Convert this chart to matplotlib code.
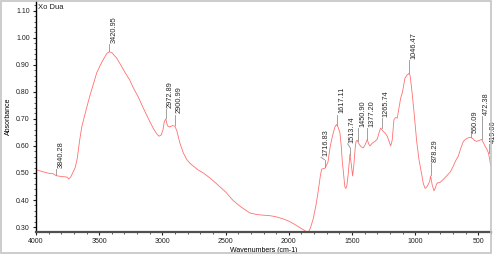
import numpy as np
import matplotlib
matplotlib.use("Agg")
import matplotlib.pyplot as plt
from matplotlib.patches import Rectangle
from matplotlib.ticker import MultipleLocator

plt.rcParams['font.family'] = ['Liberation Sans', 'DejaVu Sans']

# spectrum (wavenumber, absorbance)
wavenumber = [4000, 3950, 3900, 3863, 3840, 3800, 3757, 3740, 3725, 3710, 3690, 3673,
              3655, 3638, 3600, 3573, 3545, 3520, 3490, 3467, 3440, 3421, 3400, 3362,
              3330, 3296, 3260, 3230, 3190, 3151, 3110, 3072, 3045, 3027, 3010, 2995,
              2985, 2973, 2960, 2945, 2920, 2901, 2885, 2861, 2835, 2808, 2780, 2756,
              2720, 2676, 2620, 2571, 2500, 2440, 2380, 2307, 2260, 2228, 2149, 2100,
              2044, 2000, 1965, 1920, 1886, 1860, 1846, 1830, 1807, 1785, 1768, 1750,
              1740, 1727, 1715, 1700, 1690, 1674, 1660, 1648, 1635, 1623, 1610, 1595,
              1585, 1577, 1565, 1556, 1548, 1540, 1530, 1516, 1505, 1495, 1485, 1475,
              1468, 1458, 1442, 1425, 1410, 1395, 1379, 1368, 1358, 1340, 1318, 1300,
              1285, 1273, 1255, 1238, 1220, 1205, 1194, 1182, 1168, 1155, 1142, 1128,
              1115, 1100, 1081, 1065, 1050, 1040, 1028, 1010, 988, 970, 949, 935,
              921, 910, 895, 885, 878, 865, 851, 840, 830, 817, 804, 780,
              751, 720, 698, 680, 658, 640, 619, 600, 580, 566, 545, 530,
              513, 495, 474, 460, 448, 435, 421, 410, 403]
absorbance = [0.512, 0.505, 0.499, 0.497, 0.490, 0.487, 0.485, 0.478, 0.485, 0.500, 0.520, 0.555,
              0.620, 0.670, 0.740, 0.787, 0.830, 0.870, 0.900, 0.920, 0.942, 0.948, 0.945, 0.925,
              0.900, 0.872, 0.845, 0.815, 0.780, 0.740, 0.700, 0.665, 0.645, 0.636, 0.640, 0.660,
              0.690, 0.700, 0.675, 0.670, 0.675, 0.673, 0.655, 0.610, 0.575, 0.550, 0.535, 0.526,
              0.512, 0.500, 0.480, 0.460, 0.430, 0.398, 0.375, 0.352, 0.347, 0.345, 0.342, 0.338,
              0.330, 0.322, 0.313, 0.300, 0.290, 0.283, 0.281, 0.295, 0.330, 0.380, 0.430, 0.490,
              0.514, 0.516, 0.517, 0.530, 0.540, 0.593, 0.625, 0.648, 0.670, 0.679, 0.670, 0.648,
              0.600, 0.545, 0.490, 0.448, 0.443, 0.455, 0.495, 0.569, 0.530, 0.489, 0.530, 0.590,
              0.617, 0.621, 0.605, 0.596, 0.593, 0.605, 0.624, 0.608, 0.600, 0.610, 0.617, 0.625,
              0.650, 0.666, 0.655, 0.648, 0.635, 0.615, 0.600, 0.620, 0.697, 0.705, 0.703, 0.740,
              0.776, 0.800, 0.850, 0.862, 0.868, 0.860, 0.813, 0.730, 0.617, 0.550, 0.495, 0.460,
              0.443, 0.447, 0.459, 0.470, 0.489, 0.455, 0.434, 0.445, 0.460, 0.465, 0.465, 0.475,
              0.489, 0.505, 0.526, 0.545, 0.563, 0.590, 0.617, 0.625, 0.630, 0.632, 0.628, 0.620,
              0.617, 0.620, 0.624, 0.612, 0.600, 0.590, 0.575, 0.550, 0.526]

# labelled peaks
peaks = [3840.28, 3420.95, 2972.89, 2900.99, 1716.83, 1617.11, 1513.74, 1450.90,
         1377.20, 1265.74, 1046.47, 878.29, 560.09, 472.38, 419.06]
# where each leader line ends / label starts (data units)
label_y = [0.516, 0.978, 0.735, 0.716, 0.558, 0.716, 0.608, 0.665,
           0.665, 0.702, 0.918, 0.537, 0.643, 0.709, 0.607]
label_dx = [0, 0, 0, 0, 28, 0, 20, 0, 0, 0, 0, 0, 0, 0, 0]

wn = np.array(wavenumber)
ab = np.array(absorbance)

fig = plt.figure(figsize=(4.99, 2.54), dpi=100)
ax = fig.add_axes([36 / 499, 22 / 254, 455 / 499, 231 / 254])

ax.plot(wn, ab, color='#ff7070', lw=0.6)

ax.set_xlim(4000, 400)
ax.set_ylim(0.2817, 1.136)

for p, ly, dx in zip(peaks, label_y, label_dx):
    py = np.interp(p, wn[::-1], ab[::-1]) + 0.004
    ax.plot([p, p], [py, py + 0.028 if dx else ly], color='#909090', lw=0.6)
    if dx:
        ax.plot([p, p + dx], [py + 0.028, ly], color='#909090', lw=0.6)
    ax.text(p + dx - 8, ly + 0.004, '%.2f' % p, rotation=90, fontsize=5.3,
            ha='left', va='bottom', color='#282828', clip_on=False)

ax.text(0.004, 0.985, 'Xo Dua', transform=ax.transAxes, fontsize=5.5,
        ha='left', va='top', color='#202020')

ax.xaxis.set_major_locator(MultipleLocator(500))
ax.xaxis.set_minor_locator(MultipleLocator(100))
ax.yaxis.set_major_locator(MultipleLocator(0.1))
ax.yaxis.set_minor_locator(MultipleLocator(0.02))
ax.yaxis.set_major_formatter(plt.FormatStrFormatter('%.2f'))
ax.tick_params(which='major', direction='out', length=2.5, width=0.8,
               labelsize=5, pad=2, colors='#202020')
ax.tick_params(which='minor', direction='out', length=1.3, width=0.6, colors='#404040')

ax.spines['top'].set_visible(False)
ax.spines['right'].set_visible(False)
ax.spines['left'].set_linewidth(1.0)
ax.spines['bottom'].set_linewidth(1.6)
ax.spines['bottom'].set_color('#505050')

ax.set_xlabel('Wavenumbers (cm-1)', fontsize=5, labelpad=1)
ax.set_ylabel('Absorbance', fontsize=5, labelpad=3)

# light grey frame round the chart
fig.patches.append(Rectangle((1 / 499, 1.5 / 254), 490 / 499, 251.5 / 254,
                             transform=fig.transFigure, fill=False,
                             edgecolor='#c4c4c4', lw=1.2))

fig.savefig('out.png', dpi=100)
